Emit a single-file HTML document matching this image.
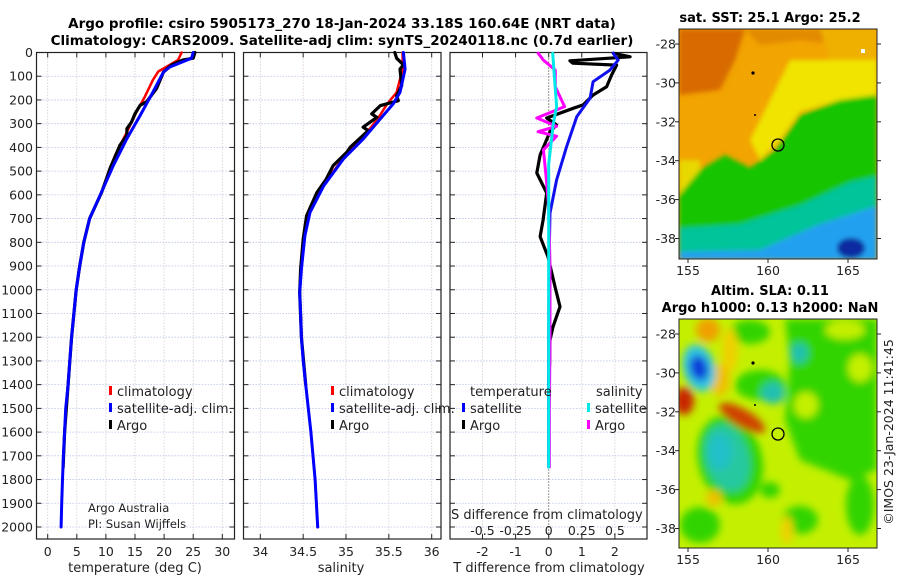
<!DOCTYPE html>
<html><head><meta charset="utf-8">
<style>
html,body{margin:0;padding:0;background:#fff;}
svg{display:block;font-family:"DejaVu Sans","Liberation Sans",sans-serif;}
</style></head>
<body>
<svg id="fig" width="900" height="580" viewBox="0 0 900 580">
<defs>
<filter id="blur1" x="-10%" y="-10%" width="120%" height="120%"><feGaussianBlur stdDeviation="2.5"/></filter>
<filter id="blur2" x="-10%" y="-10%" width="120%" height="120%"><feGaussianBlur stdDeviation="4"/></filter>
<clipPath id="clipM1"><rect x="679" y="29" width="198" height="230"/></clipPath>
<clipPath id="clipM2"><rect x="679" y="319" width="198" height="229"/></clipPath>
</defs>
<text x="342" y="28" text-anchor="middle" font-size="13.5" font-weight="bold" fill="#000">Argo profile: csiro 5905173_270 18-Jan-2024 33.18S 160.64E (NRT data)</text>
<text x="342" y="45" text-anchor="middle" font-size="13.5" font-weight="bold" fill="#000">Climatology: CARS2009. Satellite-adj clim: synTS_20240118.nc (0.7d earlier)</text>
<g id="panels"></g>
<g id="maps">
 <!-- SST map -->
 <g clip-path="url(#clipM1)">
  <rect x="679" y="29" width="198" height="230" fill="#f2a400"/>
  <g filter="url(#blur1)">
   <polygon points="679,29 745,29 735,60 720,90 679,95" fill="#d86a00"/>
   <polygon points="745,29 830,29 840,45 800,40 760,45" fill="#e28a00"/>
   <polygon points="820,29 877,29 877,90 850,85 830,60" fill="#f0b000"/>
   <polygon points="790,60 877,60 877,95 840,100 800,112 780,140 760,160 750,140" fill="#f0e400"/>
   <polygon points="679,160 700,160 700,200 679,205" fill="#e8d800"/>
   <polygon points="679,195 700,170 725,155 750,168 775,150 800,115 840,100 877,95 877,260 679,260" fill="#18c400"/>
   <polygon points="679,228 740,224 800,205 850,182 877,176 877,260 679,260" fill="#00c49a"/>
   <polygon points="679,252 760,250 820,224 877,206 877,260 679,260" fill="#22a0f0"/>
   <ellipse cx="851" cy="248" rx="14" ry="10" fill="#0a2aa0"/>
  </g>
  <rect x="861" y="49" width="4" height="4" fill="#fff"/>
  <circle cx="753" cy="73" r="1.6" fill="#000"/>
  <circle cx="755" cy="115" r="1" fill="#000"/>
  <circle cx="778" cy="145" r="6" fill="none" stroke="#000" stroke-width="1.3"/>
 </g>
 <rect x="679" y="29" width="198" height="230" fill="none" stroke="#222" stroke-width="1"/>
 <!-- SLA map -->
 <g clip-path="url(#clipM2)">
  <rect x="679" y="319" width="198" height="229" fill="#c4f000"/>
  <g filter="url(#blur2)">
   <polygon points="785,319 877,319 877,470 850,480 800,460 785,420 790,360" fill="#30d400"/>
   <ellipse cx="860" cy="368" rx="12" ry="14" fill="#c4f000"/>
   <ellipse cx="806" cy="405" rx="12" ry="13" fill="#c4f000"/>
   <ellipse cx="845" cy="330" rx="20" ry="9" fill="#c4f000"/>
   <ellipse cx="750" cy="332" rx="20" ry="12" fill="#30d400"/>
   <ellipse cx="760" cy="385" rx="25" ry="15" fill="#30d400"/>
   <ellipse cx="730" cy="460" rx="32" ry="45" fill="#30d400" transform="rotate(-15 730 460)"/>
   <ellipse cx="700" cy="525" rx="20" ry="18" fill="#30d400"/>
   <ellipse cx="800" cy="520" rx="18" ry="14" fill="#30d400"/>
   <ellipse cx="860" cy="505" rx="14" ry="30" fill="#30d400"/>
   <ellipse cx="770" cy="490" rx="10" ry="8" fill="#30d400"/>
   <ellipse cx="708" cy="330" rx="12" ry="12" fill="#f0a000"/>
   <ellipse cx="730" cy="350" rx="8" ry="22" fill="#f0d000"/>
   <ellipse cx="720" cy="380" rx="10" ry="16" fill="#f0c000"/>
   <ellipse cx="699" cy="368" rx="16" ry="24" fill="#30c8e0" transform="rotate(-15 699 368)"/>
   <ellipse cx="699" cy="368" rx="9" ry="13" fill="#0a3cd8" transform="rotate(-15 699 368)"/>
   <ellipse cx="684" cy="401" rx="10" ry="14" fill="#c82800"/>
   <ellipse cx="742" cy="418" rx="26" ry="9" fill="#d04000" transform="rotate(30 742 418)"/>
   <ellipse cx="727" cy="458" rx="22" ry="34" fill="#28c8a0" transform="rotate(-15 727 458)"/>
   <ellipse cx="720" cy="452" rx="12" ry="18" fill="#20c0c8"/>
   <ellipse cx="773" cy="393" rx="12" ry="11" fill="#20c0b0"/>
   <ellipse cx="799" cy="353" rx="9" ry="10" fill="#20c0b0"/>
   <ellipse cx="714" cy="498" rx="8" ry="8" fill="#f0c000"/>
   <ellipse cx="787" cy="530" rx="6" ry="14" fill="#f0d000"/>
  </g>
  <circle cx="753" cy="363" r="1.6" fill="#000"/>
  <circle cx="755" cy="405" r="1" fill="#000"/>
  <circle cx="778" cy="434" r="6" fill="none" stroke="#000" stroke-width="1.3"/>
 </g>
 <rect x="679" y="319" width="198" height="229" fill="none" stroke="#222" stroke-width="1"/>
 <text x="770" y="22" text-anchor="middle" font-size="13" font-weight="bold">sat. SST: 25.1 Argo: 25.2</text>
 <text x="770" y="295" text-anchor="middle" font-size="13" font-weight="bold">Altim. SLA: 0.11</text>
 <text x="770" y="312" text-anchor="middle" font-size="13" font-weight="bold">Argo h1000: 0.13 h2000: NaN</text>
 <text transform="translate(893,432) rotate(-90)" text-anchor="middle" font-size="12.5" fill="#222">©IMOS 23-Jan-2024 11:41:45</text>
</g>
<g id="mapaxes"></g>
</svg>
<script>
// ---------- data ----------
var tempDepth = [0,24,61,82,166,265,363,475,602,700,800,900,1000,1100,1200,1300,1400,1500,1600,1700,1800,1900,2000];
var tempSat   = [25.0,24.7,21.0,19.9,18.1,15.9,13.6,11.3,9.0,7.2,6.2,5.5,4.9,4.5,4.1,3.8,3.5,3.1,2.9,2.7,2.55,2.4,2.3];
var climDepth = [0,31,52,80,115,186,249,335,433,532,602,700,800,900,1000,1200,1400,1600,1750];
var tempClim  = [23.0,22.4,21.0,19.0,18.1,16.7,15.3,13.6,11.6,10.1,9.0,7.2,6.2,5.5,4.9,4.1,3.5,2.9,2.65];
var argoDepth = [0,24,31,52,82,152,208,222,258,293,321,349,391,489,588,700,800,900,1000,1200,1400,1600,1750];
var tempArgo  = [25.3,25.0,23.3,21.3,19.9,18.7,17.0,15.9,15.0,14.4,13.6,13.6,12.4,10.7,9.3,7.2,6.2,5.5,4.9,4.1,3.5,2.9,2.65];

var salDepth  = [0,70,168,217,280,365,449,562,674,772,913,1012,1100,1200,1300,1400,1600,1800,2000];
var salSat    = [35.67,35.69,35.63,35.55,35.40,35.20,34.97,34.74,34.58,34.52,34.48,34.46,34.47,34.48,34.5,34.53,34.59,34.64,34.67];
var salClim   = [35.66,35.66,35.59,35.48,35.37,35.18,34.96,34.73,34.58,34.52,34.48,34.46,34.47,34.48,34.5,34.53,34.59,34.64,34.67];
var salArgoDepth = [0,24,52,70,140,182,203,224,259,273,315,329,399,420,477,533,590,688,786,913,1012,1200,1400];
var salArgo   = [35.57,35.59,35.67,35.63,35.65,35.59,35.61,35.40,35.30,35.36,35.20,35.26,35.05,35.01,34.85,34.77,34.66,34.54,34.50,34.47,34.46,34.48,34.53];

var dTArgoDepth = [3,18,35,45,53,95,144,179,221,235,276,305,334,432,508,592,706,776,861,987,1071,1156,1212,1300,1400];
var dTArgo      = [1.95,2.46,0.64,0.73,2.05,1.9,1.75,1.34,1.04,0.74,-0.06,0.24,0.04,-0.26,-0.36,-0.06,-0.17,-0.26,-0.02,0.19,0.34,0.13,0.04,0.03,0.0];
var dTSatDepth  = [3,32,74,123,192,270,397,537,677,900,1200,1500,1747];
var dTSat       = [1.95,2.1,1.85,1.34,1.25,0.85,0.54,0.24,0.04,0.01,0.0,0.0,0.0];
var dSArgoDepth = [3,32,74,144,228,276,311,334,353,410,522,648,900,1212,1500,1747];
var dSArgo      = [-0.08,-0.04,0.05,0.05,0.12,-0.09,0.06,-0.08,0.06,-0.04,-0.02,0.0,0.01,0.01,0.005,0.005];
var dSSatDepth  = [3,228,300,470,800,1200,1747];
var dSSat       = [0.03,0.06,0.035,0.0,0.0,0.0,0.0];

var depthTicks = [0,100,200,300,400,500,600,700,800,900,1000,1100,1200,1300,1400,1500,1600,1700,1800,1900,2000];
var tempTicks = [0,5,10,15,20,25,30];
var salTicks = [34,34.5,35,35.5,36];
var salTickLabels = ["34","34.5","35","35.5","36"];
var dTTicks = [-2,-1,0,1,2];
var dSTicks = [-0.5,-0.25,0,0.25,0.5];
var dSTickLabels = ["-0.5","-0.25","0","0.25","0.5"];
var lonTicks = [155,160,165];
var latTicks = [-28,-30,-32,-34,-36,-38];

// ---------- layout ----------
var NS = "http://www.w3.org/2000/svg";
var TOP = 52.5, BOT = 539;
function yD(d){ return TOP + d*0.23725; }
var P1 = {l:36.5, r:234.5, x:function(v){return 47.7 + v*5.82;}};
var P2 = {l:243.5, r:441, x:function(v){return 260.3 + (v-34)*85.7;}};
var P3 = {l:450, r:647, x:function(v){return 548.7 + v*33.1;}};
function xS(v){ return 548.7 + v*132.4; }

var root = document.getElementById('panels');
function mk(tag, attrs, parent){
  var e = document.createElementNS(NS, tag);
  for (var k in attrs) e.setAttribute(k, attrs[k]);
  (parent||root).appendChild(e);
  return e;
}
function txt(x,y,s,size,anchor,parent){
  var t = mk('text',{x:x,y:y,'font-size':size,'text-anchor':anchor||'start',fill:'#222'},parent);
  t.textContent = s;
  return t;
}
function line(xs, ds, xf, color, w, name){
  var pts = xs.map(function(v,i){ return xf(v).toFixed(1)+','+yD(ds[i]).toFixed(1); }).join(' ');
  var p = mk('polyline',{points:pts,fill:'none',stroke:color,'stroke-width':w,'stroke-linejoin':'round','stroke-linecap':'round'});
  
  
  return p;
}
function frame(P, xticks, name){
  var g = mk('g',{});
  
  
  depthTicks.forEach(function(d){
    mk('line',{x1:P.l,x2:P.r,y1:yD(d),y2:yD(d),stroke:'#b8c4e8','stroke-width':0.8,'stroke-dasharray':'1.5,1.5'},g);
    mk('line',{x1:P.l,x2:P.l+5,y1:yD(d),y2:yD(d),stroke:'#222','stroke-width':1},g);
    mk('line',{x1:P.r-5,x2:P.r,y1:yD(d),y2:yD(d),stroke:'#222','stroke-width':1},g);
  });
  xticks.forEach(function(v){
    var x = P.x(v);
    mk('line',{x1:x,x2:x,y1:TOP,y2:BOT,stroke:'#d8c8d8','stroke-width':0.8,'stroke-dasharray':'1.5,1.5'},g);
    mk('line',{x1:x,x2:x,y1:TOP,y2:TOP+5,stroke:'#222','stroke-width':1},g);
    mk('line',{x1:x,x2:x,y1:BOT-5,y2:BOT,stroke:'#222','stroke-width':1},g);
  });
  mk('rect',{x:P.l,y:TOP,width:P.r-P.l,height:BOT-TOP,fill:'none',stroke:'#222','stroke-width':1.2},g);
  return g;
}

// Panel 1
frame(P1, tempTicks, 'temperature-panel');
depthTicks.forEach(function(d){
  var t = txt(33, yD(d)+4.5, String(d), 12.5, 'end');
  
  
});
tempTicks.forEach(function(v){
  var t = txt(P1.x(v), 556, String(v), 12.5, 'middle');
  
  
});
line(tempClim, climDepth, P1.x, '#ff0000', 2.5, 'temperature-climatology-line');
line(tempArgo, argoDepth, P1.x, '#000', 3.2, 'temperature-argo-line');
line(tempSat, tempDepth, P1.x, '#0000ff', 3, 'temperature-satellite-line');

// Panel 2
frame(P2, salTicks, 'salinity-panel');
salTicks.forEach(function(v,i){
  var t = txt(P2.x(v), 556, salTickLabels[i], 12.5, 'middle');
  
  
});
line(salClim, salDepth, P2.x, '#ff0000', 2.5, 'salinity-climatology-line');
line(salArgo, salArgoDepth, P2.x, '#000', 3.2, 'salinity-argo-line');
line(salSat, salDepth, P2.x, '#0000ff', 3, 'salinity-satellite-line');

// Panel 3
frame(P3, dTTicks, 'difference-panel');
mk('line',{x1:P3.x(0),x2:P3.x(0),y1:TOP,y2:BOT,stroke:'#445533','stroke-width':1,'stroke-dasharray':'1,2'});
dTTicks.forEach(function(v){
  var t = txt(P3.x(v), 556, String(v), 12.5, 'middle');
  
  
});
dSTicks.forEach(function(v,i){
  var t = txt(xS(v), 535, dSTickLabels[i], 12.5, 'middle');
  
  
});
line(dTArgo, dTArgoDepth, P3.x, '#000', 3.2, 'temperature-diff-argo-line');
line(dTSat, dTSatDepth, P3.x, '#1010ee', 3, 'temperature-diff-satellite-line');
line(dSArgo, dSArgoDepth, xS, '#ff00ff', 3, 'salinity-diff-argo-line');
line(dSSat, dSSatDepth, xS, '#00e8e8', 3, 'salinity-diff-satellite-line');

// axis titles
[[135,572,'temperature (deg C)','temperature-axis-title'],[341,572,'salinity','salinity-axis-title'],[549,572,'T difference from climatology','temperature-diff-axis-title']].forEach(function(a){
  var t = txt(a[0],a[1],a[2],13,'middle');
  
  
});
var sdt = txt(451, 519, 'S difference from climatology', 13, 'start');



// legends
function legend(x, y, color, label, name){
  var g = mk('g',{});
  
  
  mk('rect',{x:x,y:y-10,width:3,height:9,fill:color},g);
  txt(x+8, y, label, 13, 'start', g);
}
legend(109,396,'#ff0000','climatology','legend-climatology');
legend(109,413,'#0000ff','satellite-adj. clim.','legend-satellite-adj');
legend(109,430,'#000','Argo','legend-argo');
legend(331,396,'#ff0000','climatology','legend-sal-climatology');
legend(331,413,'#0000ff','satellite-adj. clim.','legend-sal-satellite-adj');
legend(331,430,'#000','Argo','legend-sal-argo');
var lt = txt(470,396,'temperature',13,'start');  
legend(462,413,'#0000ff','satellite','legend-temp-satellite');
legend(462,430,'#000','Argo','legend-temp-argo');
var ls = txt(596,396,'salinity',13,'start');  
legend(587,413,'#00e8e8','satellite','legend-sal-diff-satellite');
legend(587,430,'#ff00ff','Argo','legend-sal-diff-argo');

var a1 = txt(88,512,'Argo Australia',11.5,'start');  
var a2 = txt(88,528,'PI: Susan Wijffels',11.5,'start');  

// map axes
var ma = document.getElementById('mapaxes');
function lonX(v){ return 688 + (v-155)*16; }
[[29,259,44],[319,548,334]].forEach(function(m, mi){
  lonTicks.forEach(function(v){
    var x = lonX(v);
    mk('line',{x1:x,x2:x,y1:m[1],y2:m[1]+4,stroke:'#222'},ma);
    var t = txt(x, m[1]+16, String(v), 12.5, 'middle', ma);
    
    
  });
  latTicks.forEach(function(v){
    var y = m[2] + (-28 - v)*19.45;
    mk('line',{x1:675,x2:679,y1:y,y2:y,stroke:'#222'},ma);
    mk('line',{x1:877,x2:881,y1:y,y2:y,stroke:'#222'},ma);
    var t = txt(676, y+4.5, String(v), 12.5, 'end', ma);
    
    
  });
});
</script>
</body></html>
